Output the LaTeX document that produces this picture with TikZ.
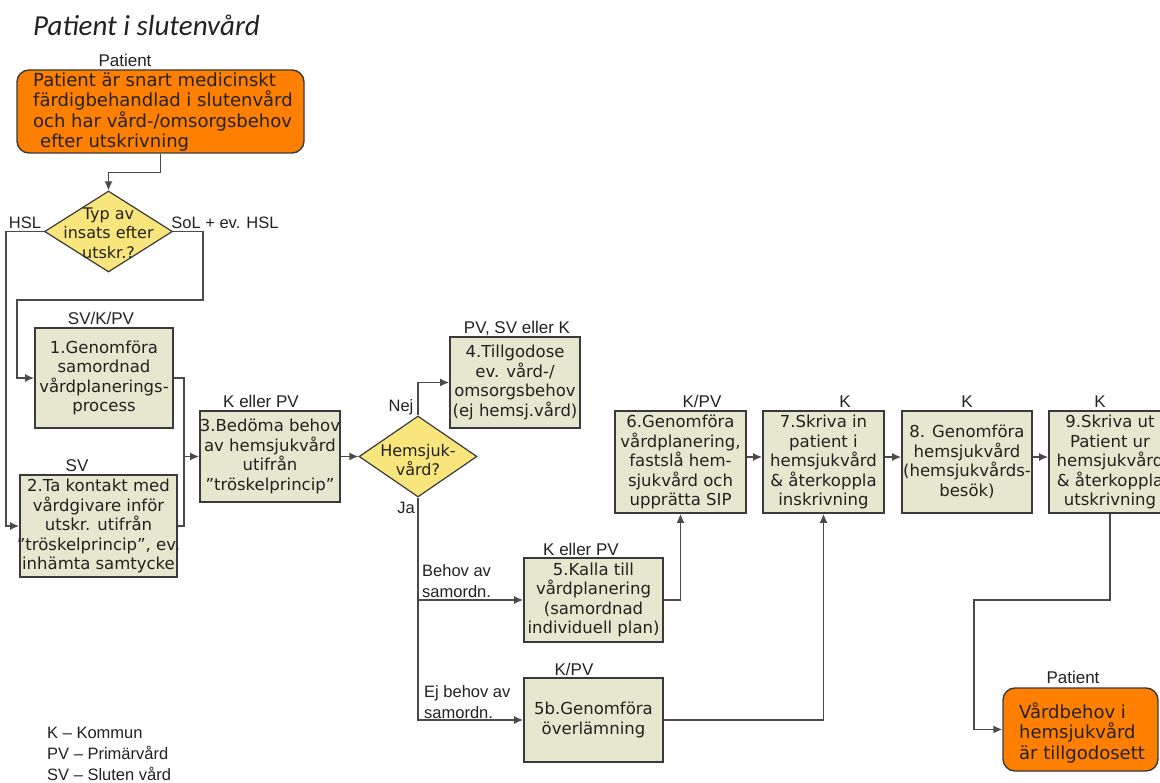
\documentclass[tikz,border=0pt]{standalone}
\usepackage{fontspec}
\setmainfont{DejaVu Sans}
\newfontfamily\lblfont{Liberation Sans}
\newfontfamily\headfont{Carlito}
\usetikzlibrary{shapes.geometric,arrows.meta}

\definecolor{boxfill}{HTML}{E6E7CE}
\definecolor{boxline}{HTML}{3A3A3A}
\definecolor{patfill}{HTML}{FF8000}
\definecolor{decfill}{HTML}{F8E67C}
\definecolor{wire}{HTML}{4A4A4A}
\definecolor{ink}{HTML}{222222}

\tikzset{
  stepbox/.style={draw=boxline, fill=boxfill, line width=1.7pt, inner sep=0pt},
  steptext/.style={align=center, inner sep=0pt, text=ink,
    font=\fontsize{16.5}{19.5}\selectfont},
  patbox/.style={draw=boxline, fill=patfill, line width=1.4pt,
    rounded corners=12pt, inner sep=0pt},
  pattext/.style={align=left, inner sep=0pt, text=ink,
    font=\fontsize{18}{20.5}\selectfont},
  decision/.style={diamond, draw=boxline, fill=decfill, line width=1.2pt,
    inner sep=0pt},
  dectext/.style={align=center, inner sep=0pt, text=ink,
    font=\fontsize{16}{19.5}\selectfont},
  role/.style={inner sep=0pt, text=ink, font=\lblfont\fontsize{17}{20}\selectfont},
  branch/.style={inner sep=0pt, text=ink, align=left,
    font=\lblfont\fontsize{16.5}{21}\selectfont},
  wireline/.style={draw=wire, line width=1.4pt},
  flow/.style={wireline, -{Latex[length=9pt,width=8pt]}},
}

% process step: name, x1, y1, x2, y2, role x, role text, body
\newcommand\procstep[8]{%
  \node[stepbox, minimum width={(#4)-(#2)}, minimum height={(#5)-(#3)}]
    (#1) at ({((#2)+(#4))/2},{((#3)+(#5))/2}) {};
  \node[steptext] (#1-text) at (#1.center) {#8};
  \node[role, anchor=base] (#1-role) at (#6,{(#3)-3}) {#7};
}

\begin{document}
\begin{tikzpicture}[x=1pt,y=-1pt]
\clip (0,0) rectangle (1160,783);
\fill[white] (0,0) rectangle (1160,783);

% heading
\node[inner sep=0pt, anchor=base west, text=ink,
  font=\headfont\itshape\fontsize{29}{32}\selectfont] (title) at (33,36) {Patient i slutenvård};

% starting situation
\node[patbox, minimum width=287pt, minimum height=83pt] (start) at (160.5,111.5) {};
\node[pattext, anchor=west] (start-text) at (33,112)
  {Patient är snart medicinskt\\färdigbehandlad i slutenvård\\och har vård-/omsorgsbehov\\\hspace*{7pt}efter utskrivning};
\node[role, anchor=base] (start-role) at (125,67) {Patient};

% first decision
\node[decision, minimum width=128pt, minimum height=81pt] (d1) at (108.5,231.5) {};
\node[dectext] (d1-text) at (108.5,233) {Typ av\\insats efter\\utskr.?};

% process steps
\procstep{b1}{35}{328}{173}{428}{101}{SV/K/PV}{1.Genomföra\\samordnad\\vårdplanerings-\\process}
\procstep{b2}{20}{475}{177}{577}{77}{SV}{2.Ta kontakt med\\vårdgivare inför\\utskr. utifrån\\”tröskelprincip”, ev.\\inhämta samtycke}
\procstep{b3}{200}{411}{340}{502}{261}{K eller PV}{3.Bedöma behov\\av hemsjukvård\\utifrån\\”tröskelprincip”}
\procstep{b4}{450}{337}{580}{428}{517}{PV, SV eller K}{4.Tillgodose\\ev. vård-/\\omsorgsbehov\\(ej hemsj.vård)}
\procstep{b5}{524}{558}{663}{642}{581}{K eller PV}{5.Kalla till\\vårdplanering\\(samordnad\\individuell plan)}
\procstep{b5b}{524}{678}{663}{762}{574}{K/PV}{5b.Genomföra\\överlämning}
\procstep{b6}{615}{411}{746}{513}{702}{K/PV}{6.Genomföra\\vårdplanering,\\fastslå hem-\\sjukvård och\\upprätta SIP}
\procstep{b7}{763}{411}{884}{513}{845}{K}{7.Skriva in\\patient i\\hemsjukvård\\\& återkoppla\\inskrivning}
\procstep{b8}{902}{411}{1032}{513}{967}{K}{8. Genomföra\\hemsjukvård\\(hemsjukvårds-\\besök)}
\procstep{b9}{1049}{411}{1171}{513}{1100}{K}{9.Skriva ut\\Patient ur\\hemsjukvård\\\& återkoppla\\utskrivning}

% second decision
\node[decision, minimum width=118pt, minimum height=81pt] (d2) at (418,456.5) {};
\node[dectext] (d2-text) at (418,460) {Hemsjuk-\\vård?};

% outcome
\node[patbox, minimum width=155pt, minimum height=83pt] (goal) at (1080.5,729.5) {};
\node[pattext, anchor=west] (goal-text) at (1019,732.5) {Vårdbehov i\\hemsjukvård\\är tillgodosett};
\node[role, anchor=base] (goal-role) at (1073,683) {Patient};

% junctions
\coordinate (m3) at ([xshift=-15pt]b3.west);
\coordinate (k9) at (974,600);

% connectors
\draw[flow] (start.south) -- ++(0,19) -| (d1.north);
\draw[flow] (d1.west) -- ++(-38,0) |- (b2.west);
\draw[flow] (d1.east) -- ++(30,0) -- ++(0,68.5) -| ([xshift=-17pt]b1.west) -- (b1.west);
\draw[wireline] (b1.east) -| (m3);
\draw[wireline] (b2.east) -| (m3);
\draw[flow] (m3) -- (b3.west);
\draw[flow] (b3.east) -- (d2.west);
\draw[flow] (d2.north) |- (b4.west);
\draw[flow] (d2.south) |- (b5.west);
\draw[flow] (d2.south) |- (b5b.west);
\draw[flow] (b5.east) -| (b6.south);
\draw[flow] (b5b.east) -| (b7.south);
\draw[flow] ([yshift=5pt]b6.east) -- ([yshift=5pt]b7.west);
\draw[flow] ([yshift=5pt]b7.east) -- ([yshift=5pt]b8.west);
\draw[flow] ([yshift=5pt]b8.east) -- ([yshift=5pt]b9.west);
\draw[flow] (b9.south) |- (k9) |- (goal.west);

% branch labels
\node[branch] (l-hsl) at (25,223) {HSL};
\node[branch] (l-sol) at (225,223) {SoL + ev. HSL};
\node[branch] (l-nej) at (401,407) {Nej};
\node[branch] (l-ja) at (406,508) {Ja};
\node[branch, anchor=west] (l-beh) at (422,581) {Behov av\\samordn.};
\node[branch, anchor=west] (l-ej) at (424,702) {Ej behov av\\samordn.};

% legend
\node[branch, anchor=west] (legend) at (47,754)
  {K – Kommun\\PV – Primärvård\\SV – Sluten vård};
\end{tikzpicture}
\end{document}
